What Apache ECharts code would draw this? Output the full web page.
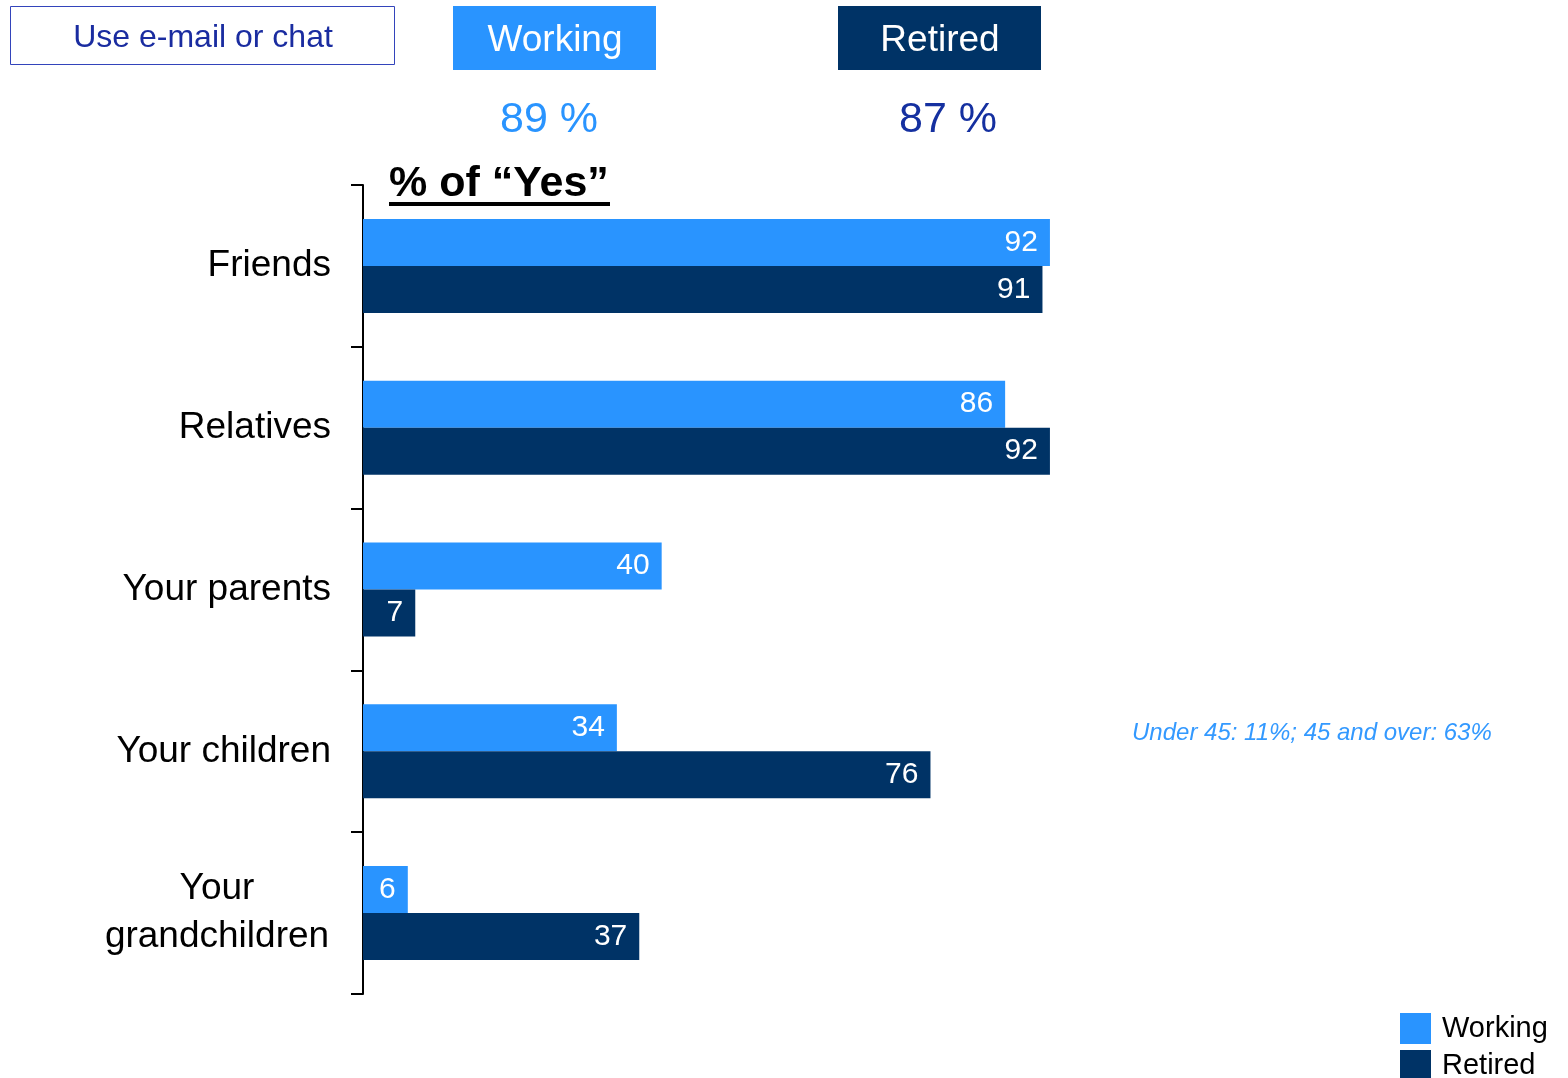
<!DOCTYPE html>
<html>
<head>
<meta charset="utf-8">
<script src="https://cdn.jsdelivr.net/npm/echarts@6/dist/echarts.min.js"></script>
<style>
html,body{margin:0;padding:0;background:#fff;}
#chart{width:1568px;height:1078px;}
</style>
</head>
<body>
<div id="chart"></div>
<script>
var categories = ['Friends', 'Relatives', 'Your parents', 'Your children', 'Your grandchildren'];
var working = [92, 86, 40, 34, 6];
var retired = [91, 92, 7, 76, 37];
var seriesNames = ['Working', 'Retired'];
var headerTotals = ['89 %', '87 %'];
var headerLabel = 'Use e-mail or chat';
var axisTitle = '% of \u201cYes\u201d';
var note = 'Under 45: 11%; 45 and over: 63%';

var FONT = '"Liberation Sans", Arial, sans-serif';
var C_WORK = '#2994FF';
var C_RET = '#003366';

var legendCommon = {
  orient: 'vertical', left: 1395, itemWidth: 31, itemHeight: 31, itemGap: 6,
  icon: 'rect', selectedMode: false,
  textStyle: { fontSize: 29, color: '#000', fontFamily: FONT, padding: [0, 0, 0, 6] }
};

var chart = echarts.init(document.getElementById('chart'));
chart.setOption({
  backgroundColor: '#fff',
  animation: false,
  textStyle: { fontFamily: FONT },
  grid: { left: 363, right: 458.33, top: 185, bottom: 84, containLabel: false },
  xAxis: {
    type: 'value', min: 0, max: 100,
    show: false, splitLine: { show: false }
  },
  yAxis: {
    type: 'category', data: categories, inverse: true,
    axisLine: { show: true, lineStyle: { color: '#000', width: 2 } },
    axisTick: { show: true, length: 12, lineStyle: { color: '#000', width: 2 } },
    axisLabel: {
      margin: 32, color: '#000', fontSize: 37, fontFamily: FONT,
      formatter: function (v) {
        if (v === 'Your grandchildren') return '{c|Your}\n{c|grandchildren}';
        return v;
      },
      rich: { c: { width: 228, align: 'center', fontSize: 37, lineHeight: 48, color: '#000', fontFamily: FONT } }
    }
  },
  legend: [
    Object.assign({}, legendCommon, { top: 1008, data: [seriesNames[0]] }),
    Object.assign({}, legendCommon, { top: 1045, data: [seriesNames[1]] })
  ],
  series: [
    {
      name: seriesNames[0], type: 'bar', data: working, barWidth: 47, barGap: '0%',
      itemStyle: { color: C_WORK },
      label: { show: true, position: 'insideRight', distance: 12, color: '#fff', fontSize: 30, fontFamily: FONT }
    },
    {
      name: seriesNames[1], type: 'bar', data: retired, barWidth: 47, barGap: '0%',
      itemStyle: { color: C_RET },
      label: { show: true, position: 'insideRight', distance: 12, color: '#fff', fontSize: 30, fontFamily: FONT }
    }
  ],
  graphic: [
    { type: 'rect', shape: { x: 10.5, y: 6.5, width: 384, height: 58 }, style: { fill: '#fff', stroke: '#3344BB', lineWidth: 1 } },
    { type: 'text', x: 203, y: 38, style: { text: headerLabel, fill: '#1A2CA0', font: '32px ' + FONT, textAlign: 'center', textVerticalAlign: 'middle' } },
    { type: 'rect', shape: { x: 453, y: 6, width: 203, height: 64 }, style: { fill: C_WORK } },
    { type: 'text', x: 555, y: 41, style: { text: seriesNames[0], fill: '#fff', font: '37px ' + FONT, textAlign: 'center', textVerticalAlign: 'middle' } },
    { type: 'rect', shape: { x: 838, y: 6, width: 203, height: 64 }, style: { fill: C_RET } },
    { type: 'text', x: 940, y: 41, style: { text: seriesNames[1], fill: '#fff', font: '37px ' + FONT, textAlign: 'center', textVerticalAlign: 'middle' } },
    { type: 'text', x: 549, y: 120, style: { text: headerTotals[0], fill: C_WORK, font: '43px ' + FONT, textAlign: 'center', textVerticalAlign: 'middle' } },
    { type: 'text', x: 948, y: 120, style: { text: headerTotals[1], fill: '#1530A0', font: '43px ' + FONT, textAlign: 'center', textVerticalAlign: 'middle' } },
    { type: 'text', x: 389, y: 184, style: { text: axisTitle, fill: '#000', font: 'bold 43px ' + FONT, textAlign: 'left', textVerticalAlign: 'middle' } },
    { type: 'rect', shape: { x: 389, y: 202, width: 221, height: 4 }, style: { fill: '#000' } },
    { type: 'text', x: 1132, y: 733, style: { text: note, fill: '#3399FF', font: 'italic 24px ' + FONT, textAlign: 'left', textVerticalAlign: 'middle' } }
  ]
});
</script>
</body>
</html>
